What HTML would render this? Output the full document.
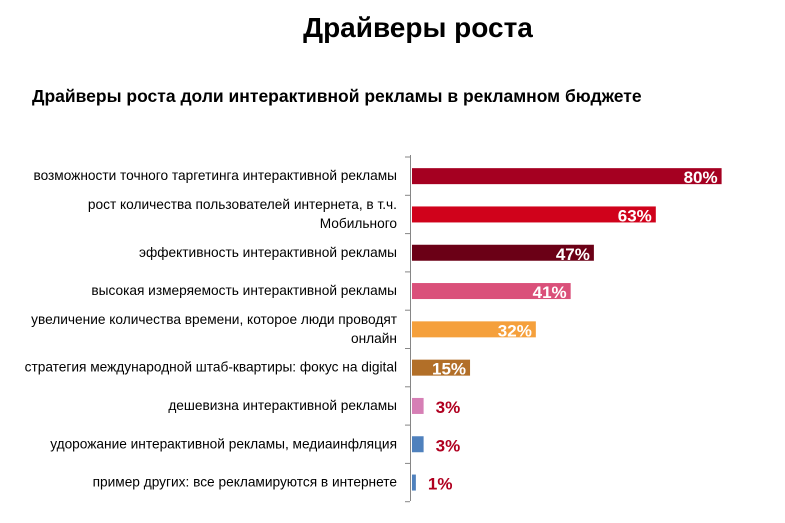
<!DOCTYPE html>
<html><head><meta charset="utf-8"><style>
body{margin:0;background:#fff;width:785px;height:518px;overflow:hidden;font-family:"Liberation Sans","DejaVu Sans",sans-serif}
</style></head><body>
<svg id="c" width="785" height="518">
<text x="418" y="37" text-anchor="middle" font-size="28" font-weight="bold" fill="#000">Драйверы роста</text>
<text x="32" y="102" font-size="17.5" font-weight="bold" fill="#000">Драйверы роста доли интерактивной рекламы в рекламном бюджете</text>
<line x1="410.5" y1="155" x2="410.5" y2="501" stroke="#868686"/>
<g id="bars"></g>
</svg>
<script>
const categories=[["возможности точного таргетинга интерактивной рекламы"],["рост количества пользователей интернета, в т.ч.","Мобильного"],["эффективность интерактивной рекламы"],["высокая измеряемость интерактивной рекламы"],["увеличение количества времени, которое люди проводят","онлайн"],["стратегия международной штаб-квартиры: фокус на digital"],["дешевизна интерактивной рекламы"],["удорожание интерактивной рекламы, медиаинфляция"],["пример других: все рекламируются в интернете"]];
const values=[80,63,47,41,32,15,3,3,1];
const colors=["#A50021","#D0021B","#6B0016","#DA507A","#F5A03C","#B26F28","#D67FB5","#4F81BD","#4F81BD"];
const NS="http://www.w3.org/2000/svg";
const g=document.getElementById("bars");
const x0=412, pxPer=3.87, top0=157, band=38.3, bh=16;
const xs=v=>x0+v*pxPer;
function mk(t,a){const e=document.createElementNS(NS,t);for(const k in a)e.setAttribute(k,a[k]);g.appendChild(e);return e;}
for(let i=0;i<=values.length;i++){
  const y=top0+i*band;
  const tk=mk("line",{x1:405,x2:410,y1:y,y2:y,stroke:"#868686"});
  
  
}
values.forEach((v,i)=>{
  const cy=top0+band*(i+0.5);
  const r=mk("rect",{x:x0,y:cy-bh/2,width:xs(v)-x0,height:bh,fill:colors[i]});
  
  
  const inside=v>=10;
  const t=mk("text",{x:inside?xs(v)-4:xs(v)+12,y:cy+7,"text-anchor":inside?"end":"start","font-size":"17","font-weight":"bold",fill:inside?"#fff":"#B00020"});
  t.textContent=v+"%";
  
  
  const lines=categories[i];
  lines.forEach((s,j)=>{
    const ly=cy+4+(j-(lines.length-1)/2)*19;
    const c=mk("text",{x:397,y:ly,"text-anchor":"end","font-size":"13.7",fill:"#000"});
    c.textContent=s;
    
    
  });
});
</script>
</body></html>
